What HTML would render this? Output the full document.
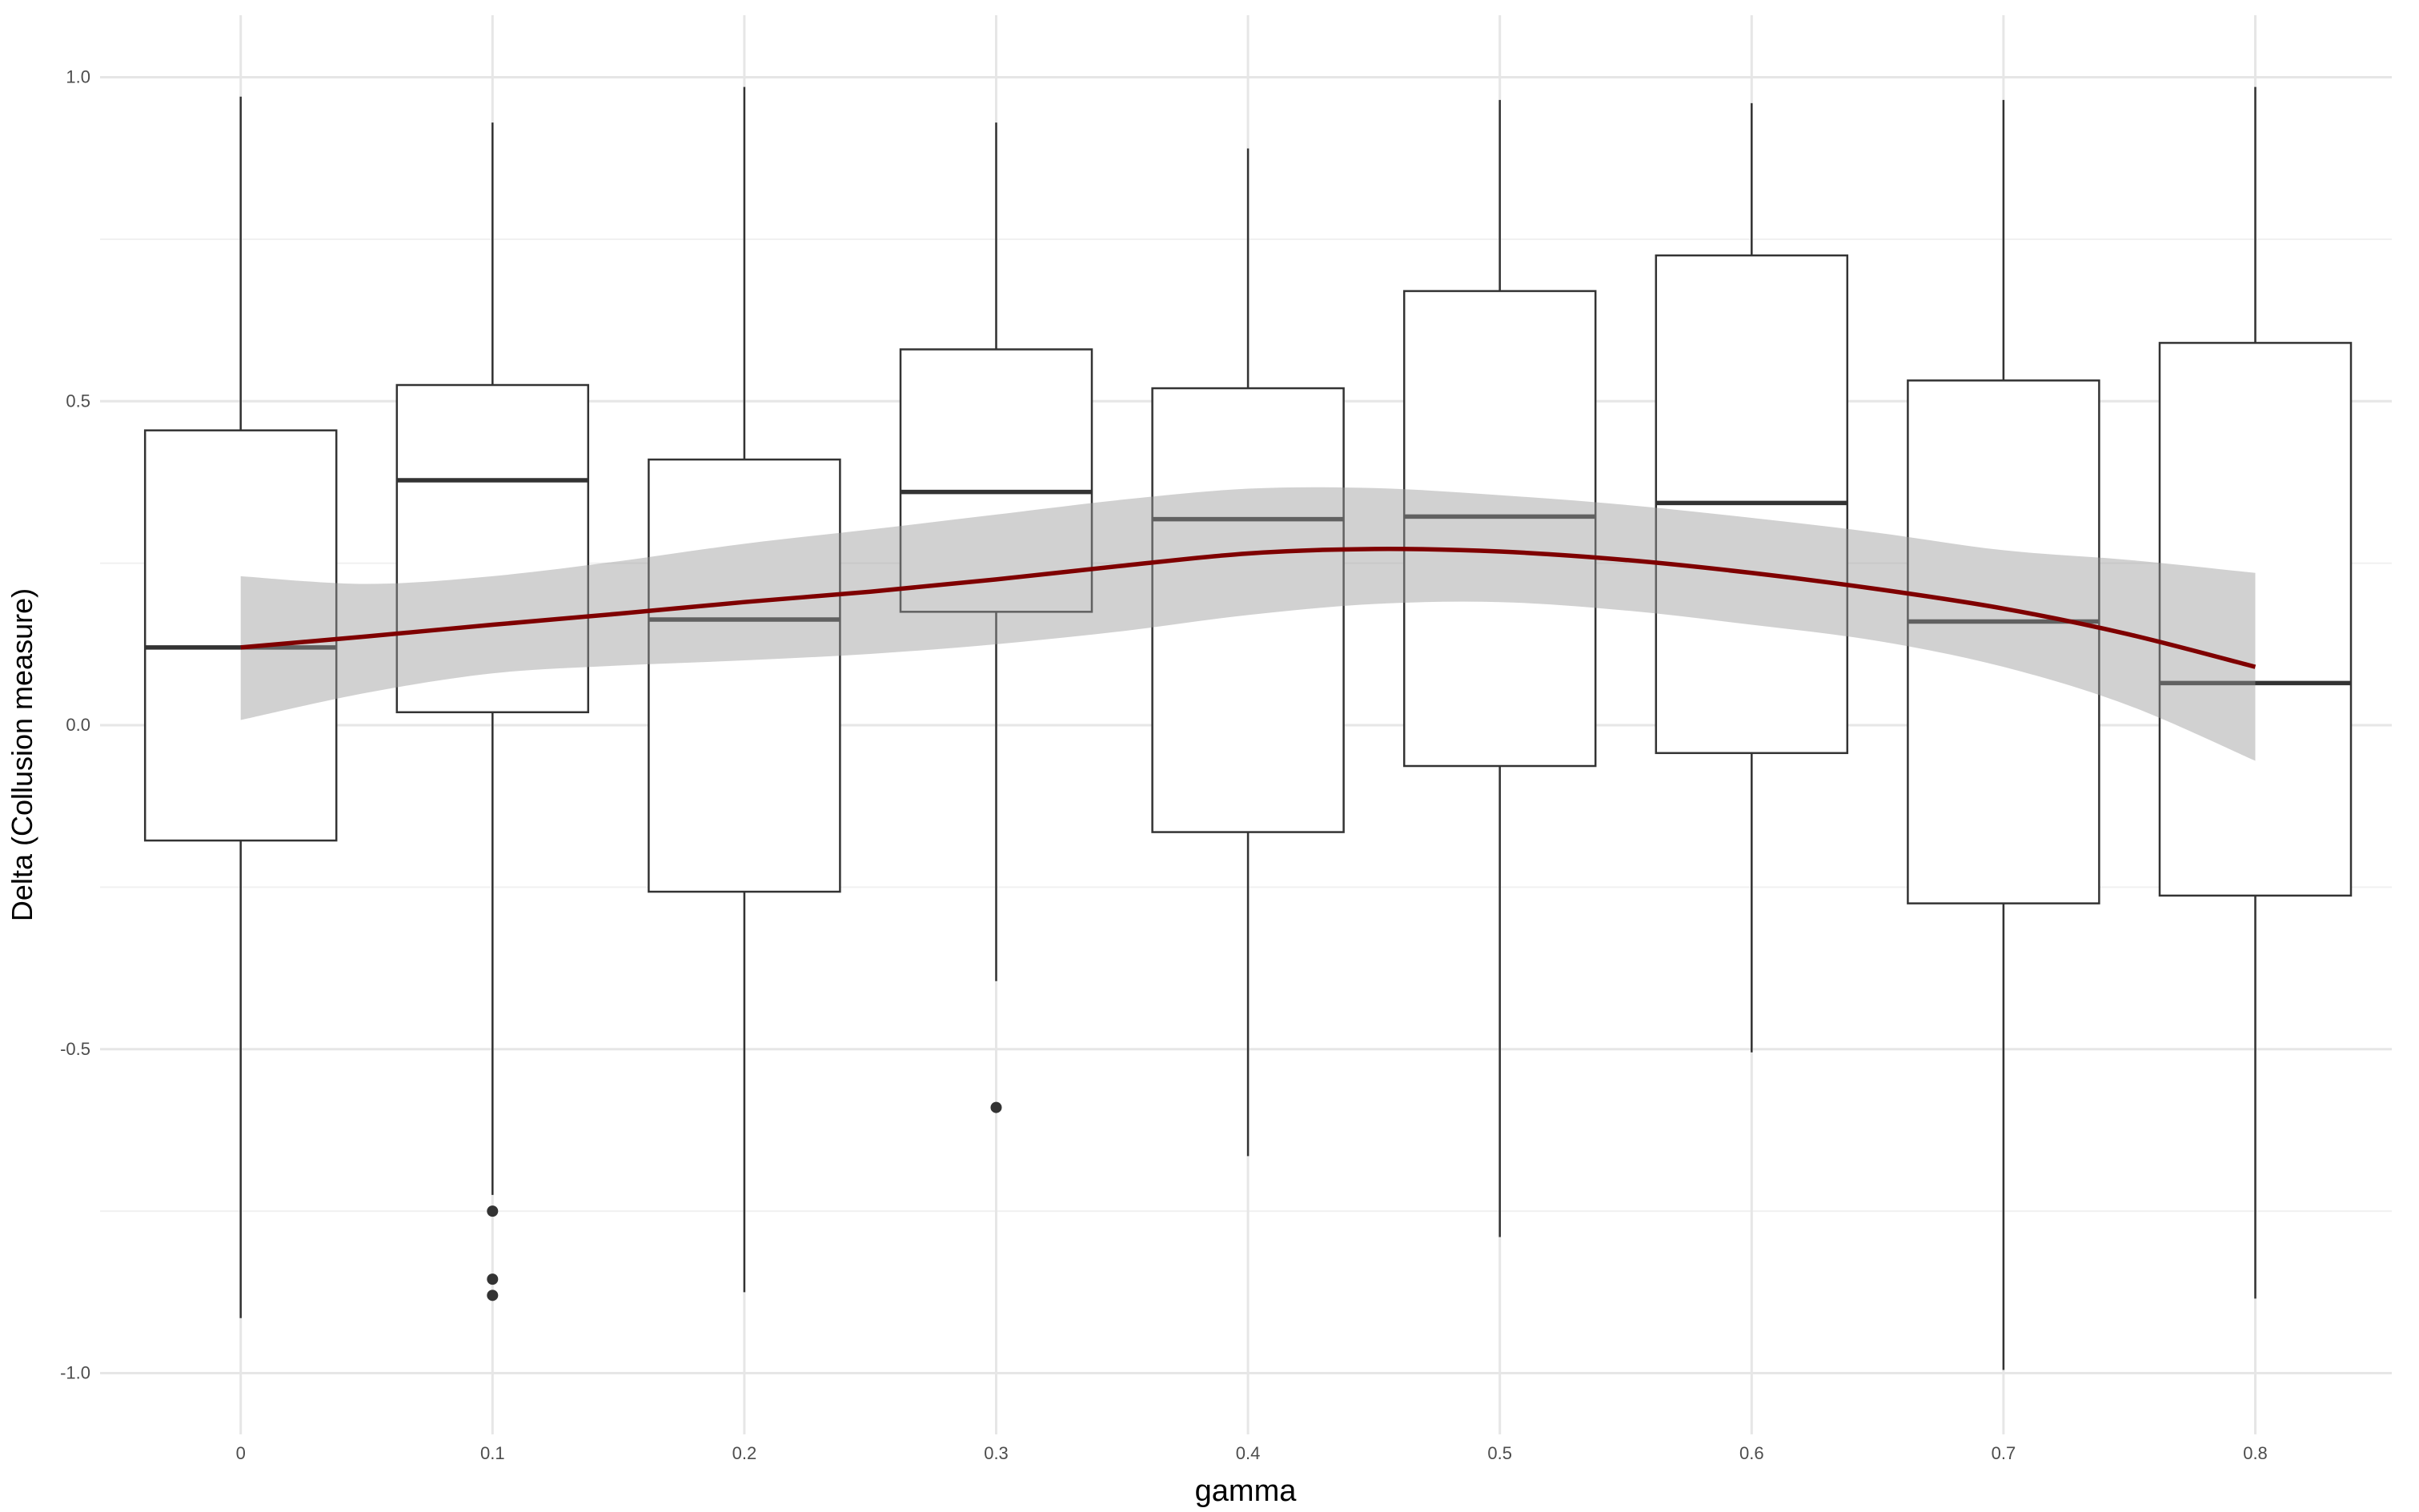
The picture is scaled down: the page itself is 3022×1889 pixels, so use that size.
<!DOCTYPE html>
<html><head><meta charset="utf-8"><style>
html,body{margin:0;padding:0;background:#fff;}
svg{display:block;font-family:"Liberation Sans",sans-serif;}
</style></head><body>
<svg id="s" width="3022" height="1889" viewBox="0 0 3022 1889" xmlns="http://www.w3.org/2000/svg"></svg>
<script>
const s=document.getElementById('s');
const Y=v=>906-809.5*v, X=g=>300.7+3146*g;
let h='';
const L=125,R=2988,T=19,B=1792;
[0.75,0.25,-0.25,-0.75].forEach(v=>h+=`<line x1="${L}" x2="${R}" y1="${Y(v)}" y2="${Y(v)}" stroke="#f0f0f0" stroke-width="2"/>`);
[1,0.5,0,-0.5,-1].forEach(v=>h+=`<line x1="${L}" x2="${R}" y1="${Y(v)}" y2="${Y(v)}" stroke="#e6e6e6" stroke-width="3"/>`);
for(let i=0;i<9;i++)h+=`<line x1="${X(i/10)}" x2="${X(i/10)}" y1="${T}" y2="${B}" stroke="#e6e6e6" stroke-width="3"/>`;
[[1,'1.0'],[0.5,'0.5'],[0,'0.0'],[-0.5,'-0.5'],[-1,'-1.0']].forEach(([v,t])=>h+=`<text x="113" y="${Y(v)+7}" font-size="22" fill="#4d4d4d" text-anchor="end">${t}</text>`);
['0','0.1','0.2','0.3','0.4','0.5','0.6','0.7','0.8'].forEach((t,i)=>h+=`<text x="${X(i/10)}" y="1823" font-size="22" fill="#4d4d4d" text-anchor="middle">${t}</text>`);
h+=`<text x="1556" y="1875" font-size="38" fill="#000" text-anchor="middle">gamma</text>`;
h+=`<text transform="translate(40,943) rotate(-90)" font-size="36" fill="#000" text-anchor="middle">Delta (Collusion measure)</text>`;
const d=[[0.97,-0.915,0.455,-0.178,0.12,[]],[0.93,-0.725,0.525,0.02,0.378,[-0.75,-0.855,-0.88]],[0.985,-0.875,0.41,-0.257,0.163,[]],[0.93,-0.395,0.58,0.175,0.36,[-0.59]],[0.89,-0.665,0.52,-0.165,0.318,[]],[0.965,-0.79,0.67,-0.063,0.322,[]],[0.96,-0.505,0.725,-0.043,0.343,[]],[0.965,-0.995,0.532,-0.275,0.16,[]],[0.985,-0.885,0.59,-0.263,0.065,[]]];
d.forEach((b,i)=>{const x=X(i/10),w=119.5;
h+=`<line x1="${x}" x2="${x}" y1="${Y(b[0])}" y2="${Y(b[2])}" stroke="#333" stroke-width="2.5"/>`;
h+=`<line x1="${x}" x2="${x}" y1="${Y(b[3])}" y2="${Y(b[1])}" stroke="#333" stroke-width="2.5"/>`;
h+=`<rect x="${x-w}" y="${Y(b[2])}" width="${2*w}" height="${Y(b[3])-Y(b[2])}" fill="#fff" stroke="#333" stroke-width="2.5"/>`;
h+=`<line x1="${x-w}" x2="${x+w}" y1="${Y(b[4])}" y2="${Y(b[4])}" stroke="#333" stroke-width="5.5"/>`;
b[5].forEach(o=>h+=`<circle cx="${x}" cy="${Y(o)}" r="7" fill="#333"/>`);});
const gs=[0,0.05,0.1,0.15,0.2,0.25,0.3,0.35,0.4,0.45,0.5,0.55,0.6,0.65,0.7,0.75,0.8];
const up=[0.23,0.218,0.23,0.253,0.28,0.302,0.325,0.348,0.365,0.366,0.355,0.34,0.32,0.297,0.27,0.255,0.235];
const lo=[0.008,0.05,0.08,0.092,0.1,0.11,0.125,0.145,0.17,0.187,0.19,0.177,0.155,0.13,0.09,0.03,-0.055];
const mid=[0.12,0.137,0.155,0.172,0.19,0.206,0.225,0.246,0.265,0.272,0.268,0.255,0.235,0.21,0.18,0.14,0.09];
function cr(P,move){let o=move?`M${P[0][0]},${P[0][1]}`:`L${P[0][0]},${P[0][1]}`;
for(let i=0;i<P.length-1;i++){const p0=P[Math.max(i-1,0)],p1=P[i],p2=P[i+1],p3=P[Math.min(i+2,P.length-1)];
o+=` C${p1[0]+(p2[0]-p0[0])/6},${p1[1]+(p2[1]-p0[1])/6} ${p2[0]-(p3[0]-p1[0])/6},${p2[1]-(p3[1]-p1[1])/6} ${p2[0]},${p2[1]}`;}return o;}
const U=gs.map((g,i)=>[X(g),Y(up[i])]), Lo=gs.map((g,i)=>[X(g),Y(lo[i])]).reverse(), M=gs.map((g,i)=>[X(g),Y(mid[i])]);
h+=`<path d="${cr(U,true)} ${cr(Lo,false)} Z" fill="rgba(153,153,153,0.45)"/>`;
h+=`<path d="${cr(M,true)}" fill="none" stroke="#7f0000" stroke-width="5.5" stroke-linejoin="round"/>`;
s.innerHTML=h;
</script>
</body></html>
